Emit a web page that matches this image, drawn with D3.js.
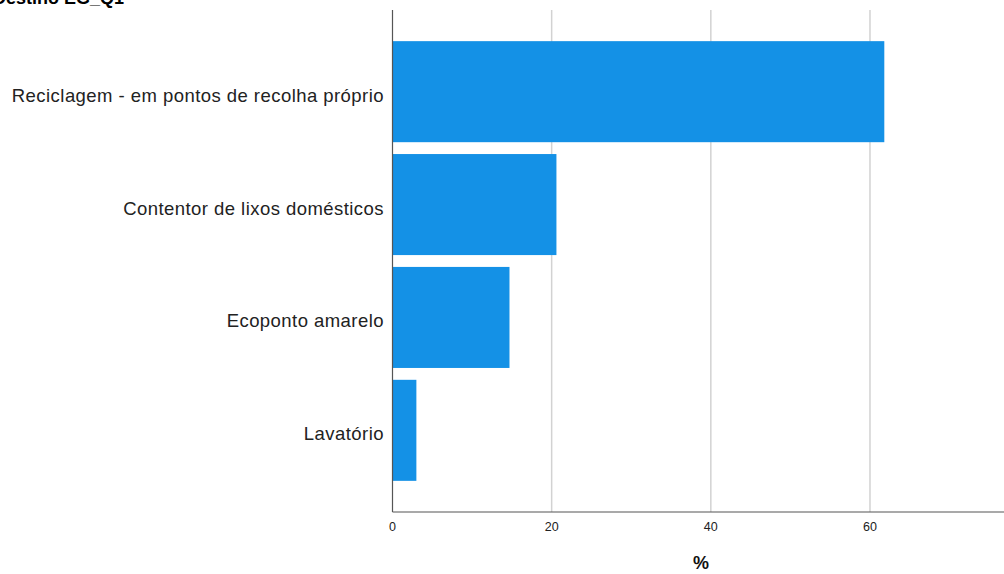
<!DOCTYPE html>
<html>
<head>
<meta charset="utf-8">
<script src="https://cdn.jsdelivr.net/npm/d3@7"></script>
<style>
  html, body { margin: 0; padding: 0; background: #fff; overflow: hidden; }
  svg { display: block; }
  text { font-family: "Liberation Sans", Arial, sans-serif; }
</style>
</head>
<body>
<svg id="chart" width="1004" height="574"></svg>
<script>
const title = "Destino EG_Q1";
const categories = [
  "Reciclagem - em pontos de recolha próprio",
  "Contentor de lixos domésticos",
  "Ecoponto amarelo",
  "Lavatório"
];
const percents = [61.8, 20.6, 14.7, 3.0];
const xTicks = [0, 20, 40, 60];
const xLabel = "%";

const svg = d3.select("#chart");
const x0 = 392.5, yTop = 10, yBottom = 512;
const x = d3.scaleLinear().domain([0, 80]).range([x0, x0 + 80 * 7.958]);
const y = d3.scaleBand().domain(categories).range([yTop, yBottom])
  .paddingInner(0.105).paddingOuter(0.276);

// title (partially cut at top, as in the reference)
svg.append("text").attr("x", -7).attr("y", 4)
  .attr("font-size", 18).attr("font-weight", "bold").attr("fill", "#000")
  .text(title);

// gridlines
svg.append("g").selectAll("line").data(xTicks.filter(d => d > 0)).join("line")
  .attr("x1", d => x(d)).attr("x2", d => x(d))
  .attr("y1", yTop).attr("y2", yBottom)
  .attr("stroke", "#d2d2d2").attr("stroke-width", 1.5);

// bars
svg.append("g").selectAll("rect").data(categories).join("rect")
  .attr("x", x(0))
  .attr("y", d => y(d))
  .attr("width", (d, i) => x(percents[i]) - x(0))
  .attr("height", y.bandwidth())
  .attr("fill", "#1491e6");

// axes lines
svg.append("line").attr("x1", x0).attr("x2", x0).attr("y1", yTop).attr("y2", yBottom)
  .attr("stroke", "#555").attr("stroke-width", 1.2);
svg.append("line").attr("x1", x0).attr("x2", 1004).attr("y1", yBottom).attr("y2", yBottom)
  .attr("stroke", "#555").attr("stroke-width", 1.2);

// x tick labels
svg.append("g").selectAll("text").data(xTicks).join("text")
  .attr("x", d => x(d)).attr("y", 530.5)
  .attr("text-anchor", "middle").attr("font-size", 12.5).attr("fill", "#222")
  .text(d => d);

// y category labels
svg.append("g").selectAll("text").data(categories).join("text")
  .attr("x", 384).attr("y", d => y(d) + y.bandwidth() / 2 + 10)
  .attr("text-anchor", "end").attr("font-size", 18.5)
  .style("letter-spacing", "0.45px").attr("fill", "#222")
  .text(d => d);

// x axis title
svg.append("text").attr("x", 701).attr("y", 569)
  .attr("text-anchor", "middle").attr("font-size", 18).attr("font-weight", "bold")
  .attr("fill", "#111").text(xLabel);
</script>
</body>
</html>
